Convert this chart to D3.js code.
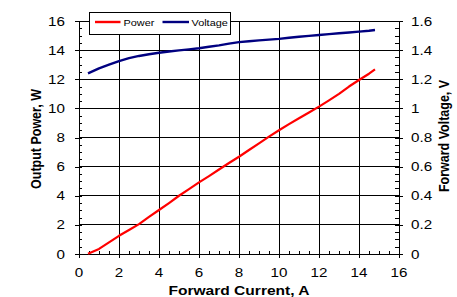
<!DOCTYPE html>
<html><head><meta charset="utf-8">
<script src="https://cdn.jsdelivr.net/npm/d3@7"></script>
<style>body{margin:0;background:#fff}svg{display:block}text{font-family:"Liberation Sans",Arial,sans-serif;fill:#000}</style>
</head><body><svg id="c" width="457" height="297"></svg>
<script>
const current = [0.45,1,1.5,2,2.5,3,3.5,4,4.5,5,5.5,6,6.5,7,7.5,8,8.5,9,9.5,10,10.5,11,11.5,12,12.5,13,13.5,14,14.5,14.8];
const power   = [0.02,0.35,0.8,1.25,1.65,2.05,2.55,3.02,3.5,4.0,4.45,4.92,5.35,5.8,6.25,6.68,7.14,7.6,8.06,8.5,8.92,9.32,9.72,10.12,10.55,11.0,11.5,11.95,12.38,12.68];
const voltage = [1.24,1.275,1.30,1.325,1.345,1.36,1.372,1.382,1.391,1.398,1.405,1.413,1.423,1.433,1.445,1.455,1.461,1.467,1.472,1.477,1.485,1.492,1.498,1.504,1.510,1.516,1.521,1.527,1.533,1.538];
const xTicks = [0,2,4,6,8,10,12,14,16];
const yTicks = [0,2,4,6,8,10,12,14,16];
const y2Ticks = [0,0.2,0.4,0.6,0.8,1,1.2,1.4,1.6];
const seriesNames = ["Power","Voltage"];
const seriesColors = ["#ff0000","#000080"];

const L=79,R=399,T=21,B=254, SX=1.17;
const svg=d3.select("#c");
const x=d3.scaleLinear().domain([0,16]).range([L,R]);
const y=d3.scaleLinear().domain([0,16]).range([B,T]);
const y2=d3.scaleLinear().domain([0,1.6]).range([B,T]);

// gridlines
const g=svg.append("g");
g.selectAll(".vg").data(xTicks.slice(1,-1)).join("line").attr("x1",d=>x(d)).attr("x2",d=>x(d)).attr("y1",T).attr("y2",B).attr("stroke","#000").attr("stroke-width",1).attr("shape-rendering","crispEdges");
g.selectAll(".hg").data(yTicks.slice(1)).join("line").attr("x1",L).attr("x2",R).attr("y1",d=>y(d)).attr("y2",d=>y(d)).attr("stroke","#000").attr("stroke-width",1).attr("shape-rendering","crispEdges");

function styleAxis(sel){sel.select(".domain").attr("stroke","#000").attr("shape-rendering","crispEdges");sel.selectAll(".tick line").attr("stroke","#000").attr("shape-rendering","crispEdges");}
// minor ticks
const xMinor=d3.range(0,16.01,0.5), yMinor=d3.range(0,16.01,0.5), y2Minor=d3.range(0,1.601,0.05);
svg.append("g").attr("transform",`translate(0,${B})`).call(d3.axisTop(x).tickValues(xMinor).tickSize(3).tickFormat("").tickSizeOuter(0)).call(styleAxis);
svg.append("g").attr("transform",`translate(0,${B})`).call(d3.axisBottom(x).tickValues(xTicks).tickSize(4).tickFormat("").tickSizeOuter(0)).call(styleAxis);
svg.append("g").attr("transform",`translate(${L},0)`).call(d3.axisRight(y).tickValues(yMinor).tickSize(3).tickFormat("").tickSizeOuter(0)).call(styleAxis);
svg.append("g").attr("transform",`translate(${L},0)`).call(d3.axisLeft(y).tickValues(yTicks).tickSize(4).tickFormat("").tickSizeOuter(0)).call(styleAxis);
svg.append("g").attr("transform",`translate(${R},0)`).call(d3.axisLeft(y2).tickValues(y2Minor).tickSize(4).tickFormat("").tickSizeOuter(0)).call(styleAxis);
svg.append("g").attr("transform",`translate(${R},0)`).call(d3.axisRight(y2).tickValues(y2Ticks).tickSize(4).tickFormat("").tickSizeOuter(0)).call(styleAxis);

// tick labels
function lbl(tx,ty,txt,anchor,size,weight,rot){
  const t=svg.append("text").attr("transform",`translate(${tx},${ty}) scale(${SX},1)`+(rot?` rotate(${rot})`:""))
    .attr("text-anchor",anchor).attr("font-size",size).attr("font-weight",weight||"normal").text(txt);
  return t;
}
xTicks.forEach(d=>lbl(x(d),277,String(d),"middle",13));
yTicks.forEach(d=>lbl(65,y(d)+4.6,String(d),"end",13));
y2Ticks.forEach(d=>lbl(411,y2(d)+4.6,String(d),"start",13));

// titles
lbl((L+R)/2,294.5,"Forward Current, A","middle",13.3,"bold");
lbl(40.5,139,"Output Power, W","middle",12.5,"bold",-90);
lbl(449,136,"Forward Voltage, V","middle",12.5,"bold",-90);

// lines
const pts1=current.map((c,i)=>[c,power[i]]), pts2=current.map((c,i)=>[c,voltage[i]]);
svg.append("path").datum(pts1).attr("d",d3.line().x(d=>x(d[0])).y(d=>y(d[1]))).attr("fill","none").attr("stroke",seriesColors[0]).attr("stroke-width",2.2).attr("stroke-linejoin","round");
svg.append("path").datum(pts2).attr("d",d3.line().x(d=>x(d[0])).y(d=>y2(d[1]))).attr("fill","none").attr("stroke",seriesColors[1]).attr("stroke-width",2.4).attr("stroke-linejoin","round");

// legend
const lg=svg.append("g");
lg.append("rect").attr("x",89.5).attr("y",12.5).attr("width",141).attr("height",22).attr("fill","#fff").attr("stroke","#000").attr("stroke-width",1);
const items=[[95,120.5,123.5],[162.5,189,191.5]];
seriesNames.forEach((n,i)=>{
  lg.append("line").attr("x1",items[i][0]).attr("x2",items[i][1]).attr("y1",22).attr("y2",22).attr("stroke",seriesColors[i]).attr("stroke-width",2.4);
  lbl(items[i][2],25.5,n,"start",9.3);
});
</script></body></html>
